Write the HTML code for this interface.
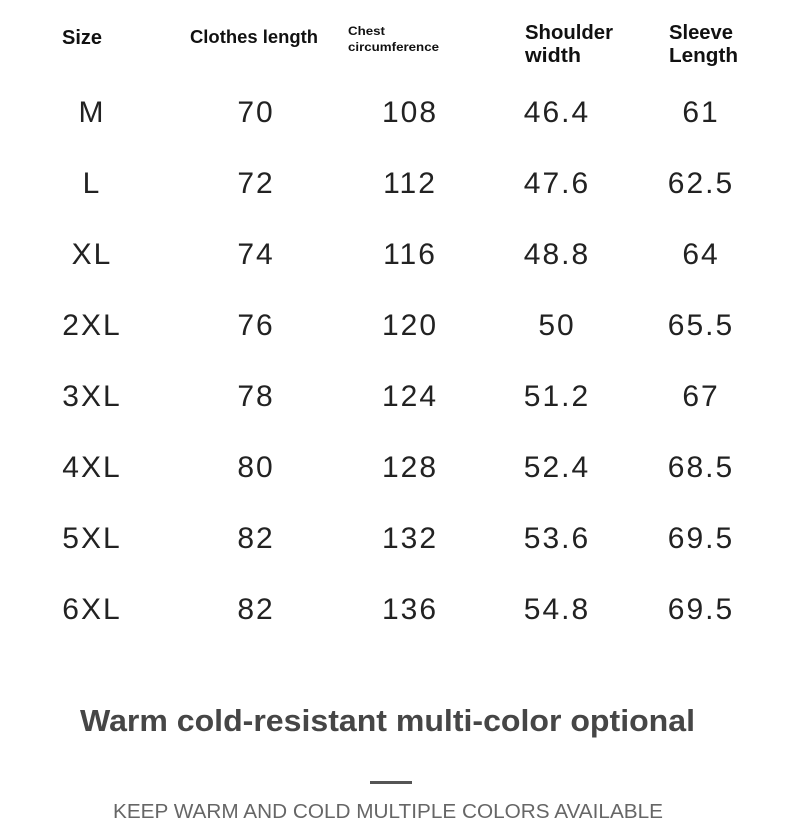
<!DOCTYPE html>
<html><head><meta charset="utf-8"><style>
html,body{margin:0;padding:0;background:#fff;width:790px;height:840px;overflow:hidden}
</style></head><body>
<svg width="790" height="840" xmlns="http://www.w3.org/2000/svg" font-family="Liberation Sans, sans-serif">
<rect width="790" height="840" fill="#fff"/>
<g font-weight="bold" fill="#111">
<text x="62" y="44" font-size="20" textLength="40" lengthAdjust="spacingAndGlyphs">Size</text>
<text x="190" y="43" font-size="18" textLength="128" lengthAdjust="spacingAndGlyphs">Clothes length</text>
<text x="348" y="35" font-size="12" textLength="37" lengthAdjust="spacingAndGlyphs">Chest</text>
<text x="348" y="51" font-size="12" textLength="91" lengthAdjust="spacingAndGlyphs">circumference</text>
<text x="525" y="39" font-size="20" textLength="88" lengthAdjust="spacingAndGlyphs">Shoulder</text>
<text x="525" y="62" font-size="20" textLength="56" lengthAdjust="spacingAndGlyphs">width</text>
<text x="669" y="39" font-size="20" textLength="64" lengthAdjust="spacingAndGlyphs">Sleeve</text>
<text x="669" y="62" font-size="20" textLength="69" lengthAdjust="spacingAndGlyphs">Length</text>
</g>
<g font-size="30" fill="#222" text-anchor="middle" letter-spacing="2">
<g transform="translate(0,122)"><text x="92">M</text><text x="256">70</text><text x="410">108</text><text x="557">46.4</text><text x="701">61</text></g>
<g transform="translate(0,193)"><text x="92">L</text><text x="256">72</text><text x="410">112</text><text x="557">47.6</text><text x="701">62.5</text></g>
<g transform="translate(0,264)"><text x="92">XL</text><text x="256">74</text><text x="410">116</text><text x="557">48.8</text><text x="701">64</text></g>
<g transform="translate(0,335)"><text x="92">2XL</text><text x="256">76</text><text x="410">120</text><text x="557">50</text><text x="701">65.5</text></g>
<g transform="translate(0,406)"><text x="92">3XL</text><text x="256">78</text><text x="410">124</text><text x="557">51.2</text><text x="701">67</text></g>
<g transform="translate(0,477)"><text x="92">4XL</text><text x="256">80</text><text x="410">128</text><text x="557">52.4</text><text x="701">68.5</text></g>
<g transform="translate(0,548)"><text x="92">5XL</text><text x="256">82</text><text x="410">132</text><text x="557">53.6</text><text x="701">69.5</text></g>
<g transform="translate(0,619)"><text x="92">6XL</text><text x="256">82</text><text x="410">136</text><text x="557">54.8</text><text x="701">69.5</text></g>
</g>
<text x="80" y="731" font-size="31" font-weight="bold" fill="#464646" textLength="615" lengthAdjust="spacingAndGlyphs">Warm cold-resistant multi-color optional</text>
<rect x="370" y="781" width="42" height="3" fill="#555"/>
<text x="113" y="818" font-size="20" fill="#666" textLength="550" lengthAdjust="spacingAndGlyphs">KEEP WARM AND COLD MULTIPLE COLORS AVAILABLE</text>
</svg>
</body></html>
